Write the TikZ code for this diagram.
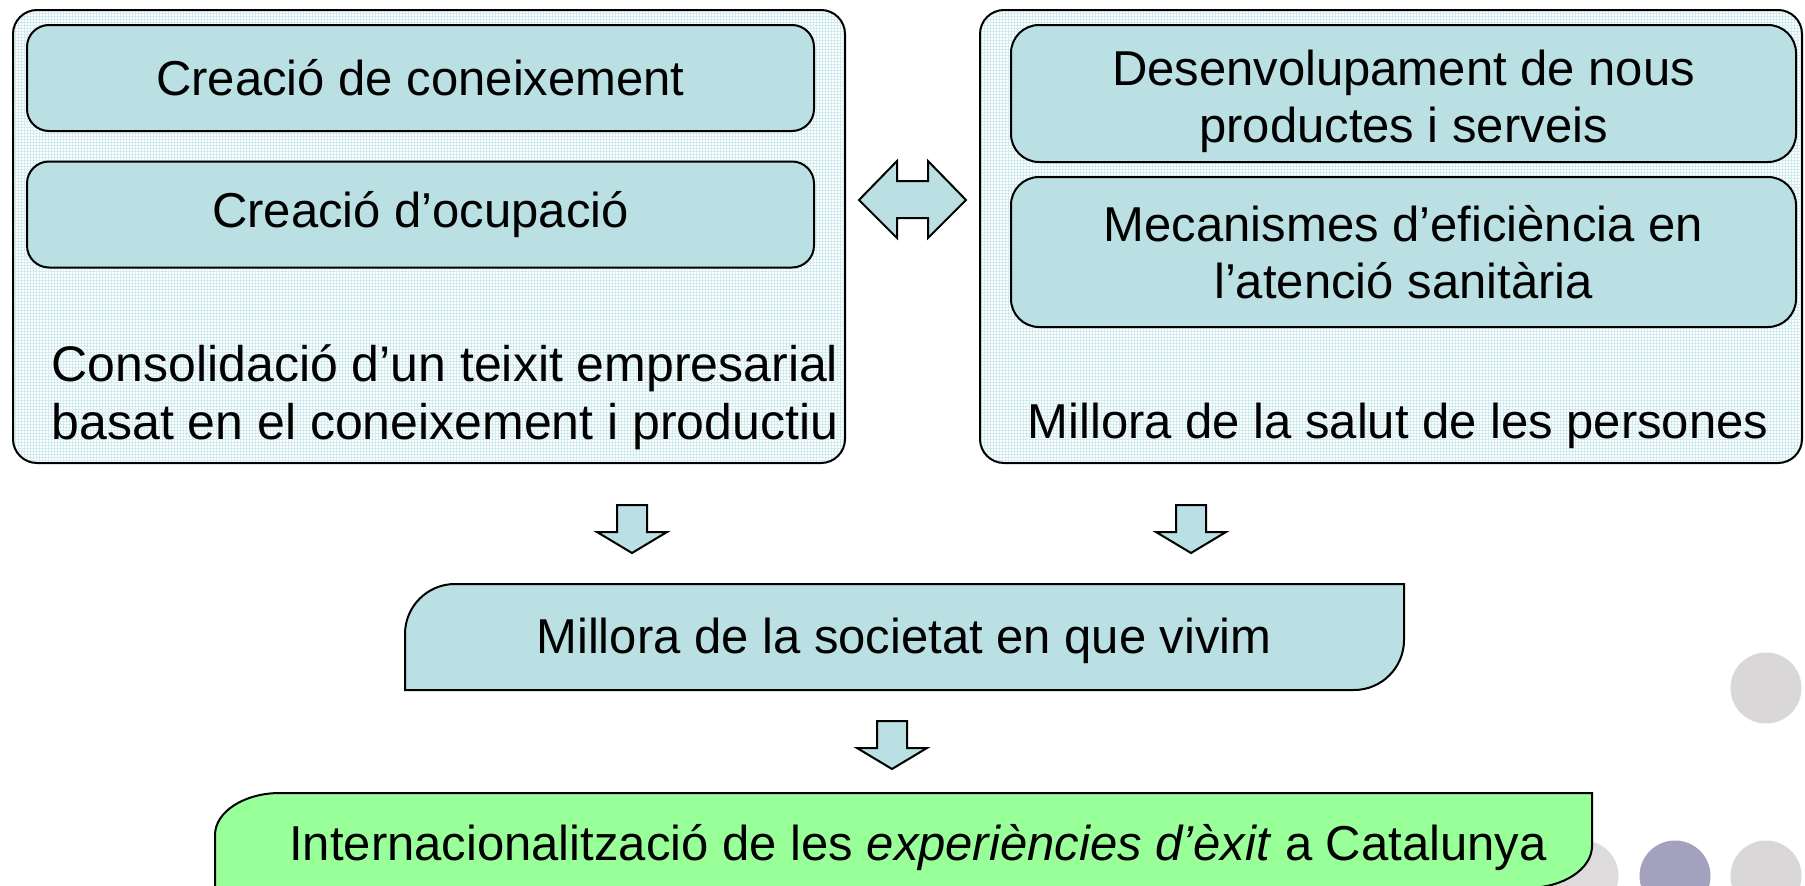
\documentclass[tikz,border=0pt]{standalone}
\usepackage{fontspec}
\setmainfont{Liberation Sans}
\usetikzlibrary{patterns}
\definecolor{boxfill}{HTML}{BAE0E3}
\definecolor{panelgrid}{HTML}{D2EBEE}
\definecolor{greenfill}{HTML}{99FF99}
\definecolor{dotgray}{HTML}{D9D7D7}
\definecolor{dotpurple}{HTML}{A4A1BF}
\begin{document}
\begin{tikzpicture}[x=1pt,y=-1pt,
  panel/.style={draw=black, line width=2pt, rounded corners=24pt, preaction={fill=white}, pattern=grid, pattern color=panelgrid, inner sep=0pt},
  innerbox/.style={draw=black, line width=2pt, fill=boxfill, rounded corners=#1, inner sep=0pt, align=center, font=\fontsize{49}{57}\selectfont},
  innerbox/.default=22pt,
  txt/.style={align=center, inner sep=0pt, font=\fontsize{49}{57}\selectfont},
  arrowshape/.style={draw=black, line width=2pt, fill=boxfill, line join=miter},
  dot/.style={circle, minimum size=71pt, inner sep=0pt}
]
\useasboundingbox (0,0) rectangle (1805,886);
\clip (0,0) rectangle (1805,886);

% decorative circles
\node[dot, fill=dotgray] (d1) at (1766,688) {};
\node[dot, fill=dotgray!90] (d2) at (1583,876) {};
\node[dot, fill=dotpurple] (d3) at (1675,876) {};
\node[dot, fill=dotgray] (d4) at (1766,876) {};

% left panel
\node[panel, minimum width=832pt, minimum height=453pt] (lp) at (429,236.5) {};
\node[innerbox, minimum width=787pt, minimum height=106pt] (c1) at (420.5,78) {Creació de coneixement};
\node[innerbox, minimum width=787pt, minimum height=106pt] (c2) at (420.5,214.5) {Creació d’ocupació};
\node[txt, font=\fontsize{50}{58}\selectfont] (lt) at (445,397) {Consolidació d’un teixit empresarial\\basat en el coneixement i productiu};

% right panel
\node[panel, minimum width=822pt, minimum height=453pt] (rp) at (1391,236.5) {};
\node[innerbox=28pt, minimum width=785pt, minimum height=137pt] (r1) at (1403.5,93.5) {};
\node[txt] (r1t) at (1403.5,101) {Desenvolupament de nous\\productes i serveis};
\node[innerbox=28pt, minimum width=785pt, minimum height=150pt] (r2) at (1403.5,252) {Mecanismes d’eficiència en\\l’atenció sanitària};
\node[txt] (rt) at (1398,426) {Millora de la salut de les persones};

% double arrow between panels
\draw[arrowshape] (859,200) -- (897,161) -- (897,181) -- (928,181) -- (928,161) -- (966,200)
  -- (928,238) -- (928,218) -- (897,218) -- (897,238) -- cycle;

% down arrows
\draw[arrowshape, shift={(632,505)}] (-15,0) -- (15,0) -- (15,27) -- (35,27) -- (0,48) -- (-35,27) -- (-15,27) -- cycle;
\draw[arrowshape, shift={(1191,505)}] (-15,0) -- (15,0) -- (15,27) -- (35,27) -- (0,48) -- (-35,27) -- (-15,27) -- cycle;
\draw[arrowshape, shift={(892,721)}] (-15,0) -- (15,0) -- (15,27) -- (35,27) -- (0,48) -- (-35,27) -- (-15,27) -- cycle;

% society box
\draw[line width=2pt, fill=boxfill] (405,690) -- (405,634) .. controls (405,606.4) and (427.4,584) .. (455,584)
  -- (1404,584) -- (1404,640) .. controls (1404,667.6) and (1381.6,690) .. (1354,690) -- cycle;
\node[txt] (soc) at (904,641) {Millora de la societat en que vivim};

% internationalisation box
\draw[line width=2pt, fill=greenfill] (215,900) -- (215,835) .. controls (215,811.8) and (244.1,793) .. (280,793)
  -- (1592,793) -- (1592,846) .. controls (1592,869.2) and (1562.9,888) .. (1527,888) -- (215,888) -- cycle;
\node[txt] (int) at (918,848) {Internacionalització de les \textit{experiències d’èxit} a Catalunya};
\end{tikzpicture}
\end{document}
